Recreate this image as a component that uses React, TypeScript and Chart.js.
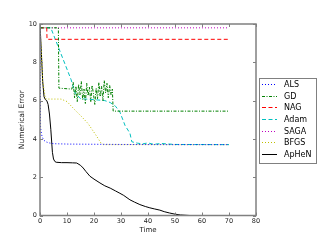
import React, { useEffect, useRef } from "react";
import { Chart, registerables } from "chart.js";

Chart.register(...registerables);

const xTicks = [0, 10, 20, 30, 40, 50, 60, 70, 80];
const yTicks = [0, 2, 4, 6, 8, 10];

const alsT = [0, 0.2, 0.5, 0.8, 1.5, 2.5, 3.7, 5, 10, 20, 30, 50, 70];
const alsV = [10, 4.6, 4.3, 4.1, 3.92, 3.83, 3.78, 3.75, 3.73, 3.72, 3.71, 3.7, 3.7];

const gdT = [0, 6.8, 7.0, 11.8, 12.3, 12.8, 13.3, 13.8, 14.3, 14.8, 15.3, 15.8, 16.3, 16.8, 17.3, 17.8, 18.3, 18.8, 19.3, 19.8, 20.3, 20.8, 21.3, 21.8, 22.3, 22.8, 23.3, 23.8, 24.3, 24.8, 25.3, 25.8, 26.3, 26.8, 27.1, 70];
const gdV = [9.8, 9.8, 6.65, 6.6, 6.95, 6.15, 6.75, 5.95, 6.85, 6.3, 7.0, 6.05, 6.6, 5.85, 6.9, 6.25, 6.7, 5.95, 6.8, 6.35, 5.8, 6.65, 6.1, 6.95, 6.2, 6.75, 6.0, 7.05, 6.4, 6.9, 6.15, 6.8, 6.3, 6.6, 5.45, 5.45];

const nagT = [0, 2.5, 2.6, 70];
const nagV = [9.8, 9.8, 9.2, 9.2];

const adamT = [0, 4, 11.5, 13, 15, 20, 24, 26, 28, 29.6, 31.5, 33.3, 34, 36, 38, 40, 42, 45, 50, 70];
const adamV = [9.8, 9.8, 7.1, 6.4, 6.1, 6.05, 6.0, 5.9, 5.7, 5.4, 4.7, 4.3, 3.85, 3.78, 3.74, 3.79, 3.72, 3.76, 3.71, 3.7];

const sagaT = [0, 70];
const sagaV = [9.8, 9.8];

const bfgsT = [0, 1, 2, 3, 7.8, 10, 13, 15.5, 17.8, 20.7, 22.6, 23.5, 70];
const bfgsV = [10, 7, 6.1, 6.08, 6.08, 5.95, 5.5, 5.15, 4.8, 4.2, 3.78, 3.7, 3.7];

const aphenT = [0, 0.5, 1, 1.5, 2, 2.5, 3, 3.5, 4, 4.6, 5, 5.5, 6, 8, 10, 12, 13.6, 15, 16, 17, 18.5, 20, 22.2, 24, 26, 28, 29.6, 31, 33.3, 35, 37, 39, 40.7, 42.5, 44.4, 46, 48, 50, 52, 55.5, 58];
const aphenV = [10, 8.5, 7, 6.2, 6.05, 6.0, 5.8, 5.3, 4.5, 3.3, 2.95, 2.82, 2.78, 2.76, 2.76, 2.75, 2.74, 2.62, 2.48, 2.3, 2.05, 1.9, 1.7, 1.55, 1.43, 1.28, 1.16, 1.05, 0.82, 0.7, 0.57, 0.47, 0.4, 0.34, 0.28, 0.2, 0.13, 0.07, 0.03, 0, 0];

const seriesNames = ["ALS", "GD", "NAG", "Adam", "SAGA", "BFGS", "ApHeN"];
const seriesColors = ["#0000ff", "#008000", "#ff0000", "#00bfbf", "#bf00bf", "#bfbf00", "#000000"];
const dotted = [1, 2];
const dashed = [4, 2.5];
const dashdot = [3, 1.5, 1, 1.5];
const seriesDashes = [dotted, dashdot, dashed, dashed, dotted, dotted, []];
const seriesT = [alsT, gdT, nagT, adamT, sagaT, bfgsT, aphenT];
const seriesV = [alsV, gdV, nagV, adamV, sagaV, bfgsV, aphenV];

const FONT = "'DejaVu Sans', sans-serif";

const framePlugin = {
  id: "frameTicks",
  afterDraw(chart: any) {
    const { ctx, chartArea: a, scales } = chart;
    const xs = scales.x;
    const ys = scales.y;
    ctx.save();
    ctx.strokeStyle = "#808080";
    ctx.lineWidth = 1;
    const tl = 3;
    ctx.beginPath();
    xTicks.forEach((t) => {
      const px = Math.round(xs.getPixelForValue(t)) + 0.5;
      ctx.moveTo(px, a.bottom);
      ctx.lineTo(px, a.bottom - tl);
      ctx.moveTo(px, a.top);
      ctx.lineTo(px, a.top + tl);
    });
    yTicks.forEach((t) => {
      const py = Math.round(ys.getPixelForValue(t)) + 0.5;
      ctx.moveTo(a.left, py);
      ctx.lineTo(a.left + tl, py);
      ctx.moveTo(a.right, py);
      ctx.lineTo(a.right - tl, py);
    });
    ctx.stroke();
    ctx.lineWidth = 1.5;
    ctx.strokeRect(a.left, a.top, a.right - a.left, a.bottom - a.top);

    // legend
    const lx = 259, ly = 78, lw = 57, lh = 85;
    ctx.fillStyle = "#ffffff";
    ctx.fillRect(lx, ly, lw, lh);
    ctx.lineWidth = 1;
    ctx.strokeStyle = "#808080";
    ctx.strokeRect(lx + 0.5, ly + 0.5, lw, lh);
    ctx.font = `8px ${FONT}`;
    ctx.textBaseline = "middle";
    ctx.textAlign = "left";
    seriesNames.forEach((name, i) => {
      const y = Math.round(84 + i * 11.67) + 0.5;
      ctx.strokeStyle = seriesColors[i];
      ctx.lineWidth = 1;
      ctx.setLineDash(seriesDashes[i]);
      ctx.beginPath();
      ctx.moveTo(262, y);
      ctx.lineTo(277, y);
      ctx.stroke();
      ctx.setLineDash([]);
      ctx.fillStyle = "#000000";
      ctx.fillText(name, 284, y);
    });
    ctx.restore();
  },
};

export default function App() {
  const ref = useRef<HTMLCanvasElement>(null);
  useEffect(() => {
    if (!ref.current) return;
    const datasets = seriesNames.map((name, i) => ({
      label: name,
      data: seriesT[i].map((t, j) => ({ x: t, y: seriesV[i][j] })),
      borderColor: seriesColors[i],
      backgroundColor: seriesColors[i],
      borderDash: seriesDashes[i],
      borderWidth: 1,
      pointRadius: 0,
      tension: 0,
      fill: false,
    }));
    const chart = new Chart(ref.current, {
      type: "line",
      data: { datasets },
      options: {
        animation: false,
        responsive: false,
        layout: { padding: { top: 24, right: 64, left: 0, bottom: 0 } },
        plugins: { legend: { display: false }, tooltip: { enabled: false } },
        scales: {
          x: {
            type: "linear",
            min: 0,
            max: 80,
            afterBuildTicks: (s: any) => { s.ticks = xTicks.map((v) => ({ value: v })); },
            afterFit: (s: any) => { s.height = 24.5; },
            grid: { display: false, drawTicks: false },
            border: { display: false },
            ticks: { font: { family: FONT, size: 6.5 }, color: "#222", padding: 2, maxRotation: 0 },
            title: { display: true, text: "Time", font: { family: FONT, size: 7 }, color: "#222", padding: { top: 0, bottom: 6 } },
          },
          y: {
            type: "linear",
            min: 0,
            max: 10,
            afterBuildTicks: (s: any) => { s.ticks = yTicks.map((v) => ({ value: v })); },
            afterFit: (s: any) => { s.width = 40; },
            grid: { display: false, drawTicks: false },
            border: { display: false },
            ticks: { font: { family: FONT, size: 6.5 }, color: "#222", padding: 3 },
            title: { display: true, text: "Numerical Error", font: { family: FONT, size: 7.5 }, color: "#222", padding: { top: 18, bottom: 0 } },
          },
        },
      },
      plugins: [framePlugin],
    });
    return () => chart.destroy();
  }, []);
  return (
    <div style={{ position: "absolute", left: 0, top: 0, width: 320, height: 240, background: "#fff" }}>
      <canvas ref={ref} width={320} height={240} />
    </div>
  );
}
